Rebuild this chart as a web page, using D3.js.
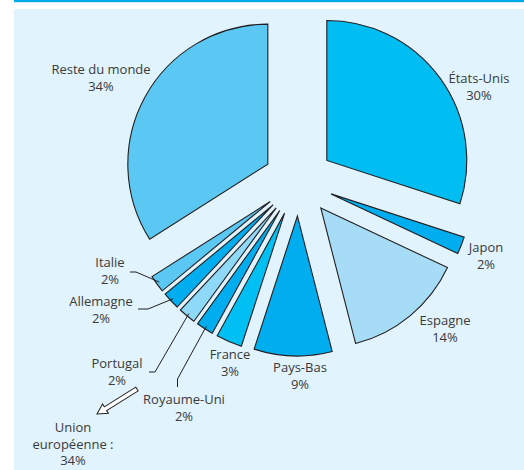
<!DOCTYPE html>
<html>
<head>
<meta charset="utf-8">
<script src="https://cdn.jsdelivr.net/npm/d3@7"></script>
<style>
  body { margin: 0; background: #fff; }
  text { font-family: "Open Sans", "Noto Sans", sans-serif; font-size: 13px; fill: #3a3a3a; }
</style>
</head>
<body>
<div class="chart"></div>
<script>
// data, clockwise from 12 o'clock
var countries = ["États-Unis", "Japon", "Espagne", "Pays-Bas", "France", "Royaume-Uni", "Portugal", "Allemagne", "Italie", "Reste du monde"];
var shares = [30, 2, 14, 9, 3, 2, 2, 2, 2, 34];
var colors = ["#00bdf2", "#00aeef", "#a6dcf6", "#00aeef", "#00bff3", "#00aeef", "#8ed8f8", "#00aeef", "#5bc8f3", "#5bc8f3"];
var euLabel = ["Union", "européenne :", "34%"];

// label layout (center x, baseline y of first line)
var labelPos = {
  "États-Unis": [479, 83],
  "Japon": [486, 252],
  "Espagne": [445, 325],
  "Pays-Bas": [300, 372],
  "France": [230, 359],
  "Royaume-Uni": [184, 404],
  "Portugal": [117, 368],
  "Allemagne": [101, 306],
  "Italie": [110, 267],
  "Reste du monde": [101, 74]
};
// leader lines: start point and elbow
var leaders = {
  "Italie": [[130, 272], [136, 272]],
  "Allemagne": [[138, 309], [148, 309]],
  "Portugal": [[149, 372], [155, 372]],
  "Royaume-Uni": [[177.5, 387], [177.5, 379]]
};

var svgWidth = 524, svgHeight = 470;
var cx = 298.5, cy = 181, radius = 140, explode = 35;

var svg = d3.select(".chart")
  .append("svg")
  .attr("width", svgWidth)
  .attr("height", svgHeight);

// frame
svg.append("rect").attr("x", 14).attr("y", 0).attr("width", svgWidth - 14).attr("height", 2.2).attr("fill", "#00a9e8");
svg.append("rect").attr("x", 14).attr("y", 9).attr("width", svgWidth - 14).attr("height", svgHeight - 9).attr("fill", "#e1f3fc");

var data = countries.map(function(c, i) { return { name: c, value: shares[i], color: colors[i] }; });

var pie = d3.pie().sort(null).value(d => d.value).startAngle(0).endAngle(2 * Math.PI);
var arc = d3.arc().innerRadius(0).outerRadius(radius);
var arcs = pie(data);

function dir(d) {
  var a = (d.startAngle + d.endAngle) / 2;
  return [Math.sin(a), -Math.cos(a)];
}

var chartGroup = svg.append("g").attr("transform", `translate(${cx}, ${cy})`);

chartGroup.selectAll("path")
  .data(arcs)
  .enter()
  .append("path")
  .attr("transform", function(d) {
    var v = dir(d);
    return `translate(${v[0] * explode}, ${v[1] * explode})`;
  })
  .attr("d", arc)
  .attr("fill", d => d.data.color)
  .attr("stroke", "#231f20")
  .attr("stroke-width", 1.1)
  .attr("stroke-linejoin", "miter");

// leader lines to outer arc
arcs.forEach(function(d) {
  var pts = leaders[d.data.name];
  if (!pts) return;
  var v = dir(d);
  var r = explode + radius - 3;
  var end = [cx + v[0] * r, cy + v[1] * r];
  svg.append("polyline")
    .attr("points", pts.concat([end]).map(p => p.join(",")).join(" "))
    .attr("fill", "none")
    .attr("stroke", "#231f20")
    .attr("stroke-width", 1);
});

// labels
data.forEach(function(d) {
  var p = labelPos[d.name];
  var t = svg.append("text").attr("text-anchor", "middle");
  t.append("tspan").attr("x", p[0]).attr("y", p[1]).text(d.name);
  t.append("tspan").attr("x", p[0]).attr("dy", 16.5).text(d.value + "%");
});

// EU arrow (hollow)
var tail = [137, 389], tip = [97, 414];
var len = Math.hypot(tip[0] - tail[0], tip[1] - tail[1]);
var ang = Math.atan2(tip[1] - tail[1], tip[0] - tail[0]) * 180 / Math.PI;
var sw = 2.2, hw = 5.5, hl = 10;
svg.append("path")
  .attr("transform", `translate(${tail[0]}, ${tail[1]}) rotate(${ang})`)
  .attr("d", `M0,${-sw} L${len - hl},${-sw} L${len - hl},${-hw} L${len},0 L${len - hl},${hw} L${len - hl},${sw} L0,${sw} Z`)
  .attr("fill", "#ffffff")
  .attr("stroke", "#231f20")
  .attr("stroke-width", 1);

euLabel.forEach(function(s, i) {
  svg.append("text")
    .attr("text-anchor", "middle")
    .attr("x", 73)
    .attr("y", 432 + i * 16.5)
    .text(s);
});
</script>
</body>
</html>
